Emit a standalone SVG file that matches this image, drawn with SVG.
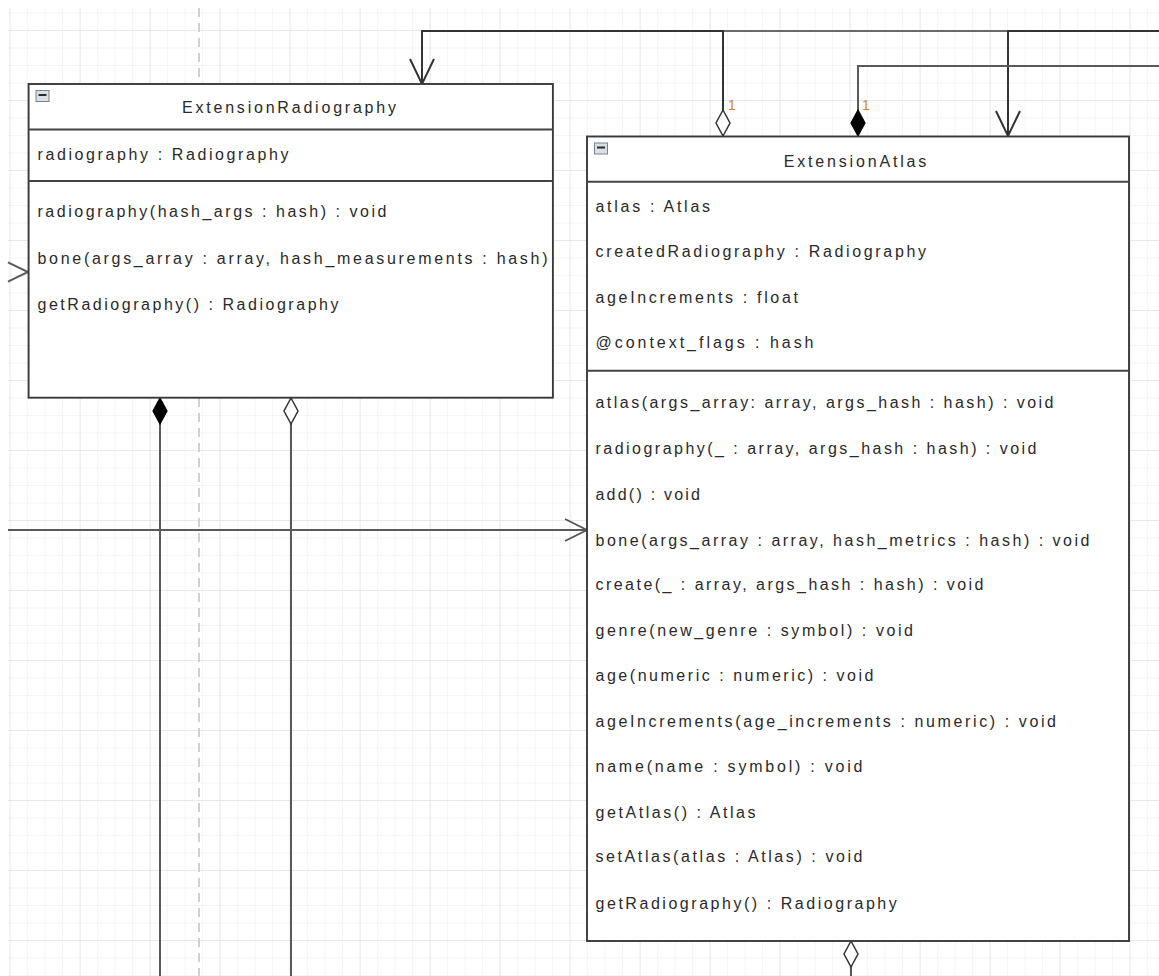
<svg xmlns="http://www.w3.org/2000/svg" width="1159" height="976" viewBox="0 0 1159 976">
<style>
.cls{fill:#ffffff;stroke:#3a3a3a;stroke-width:1.9}
.dv{stroke:#444444;stroke-width:1.9}
.t{font-family:"Liberation Sans",Arial,sans-serif;font-size:16px;fill:#2a2a2a}
.ttl{text-anchor:middle}
.mul{font-family:"Liberation Sans",Arial,sans-serif;font-size:14px;fill:#d4871c}
.con{fill:none;stroke:#333333;stroke-width:2}
.con2{fill:none;stroke:#5a5a5a;stroke-width:2}
.lite{fill:none;stroke:#6a6a6a;stroke-width:2}
.ico{fill:#d9dfe7;stroke:#7d838c;stroke-width:1}
.icm{stroke:#2a2a2a;stroke-width:2}
</style>
<defs>
<pattern id="gMinor" patternUnits="userSpaceOnUse" x="9.6" y="12.5" width="17.5" height="17.5">
<path d="M0,0 V17.5 M0,0 H17.5" fill="none" stroke="#ebebeb" stroke-width="1"/>
</pattern>
<pattern id="gMajor" patternUnits="userSpaceOnUse" x="9.6" y="30" width="70" height="70">
<path d="M0,0 V70 M0,0 H70" fill="none" stroke="#dcdcdc" stroke-width="1"/>
</pattern>
<marker id="arrowOpen" markerUnits="userSpaceOnUse" viewBox="-1 -1 27 26" markerWidth="27" markerHeight="26" refX="25" refY="12" orient="auto" overflow="visible">
<path d="M0,0 L25,12 L0,24" fill="none" stroke="#333333" stroke-width="2"/>
</marker>
<marker id="arrowOpenG" markerUnits="userSpaceOnUse" viewBox="-1 -1 24 24" markerWidth="24" markerHeight="24" refX="22" refY="11" orient="auto" overflow="visible">
<path d="M0,0 L22,11 L0,22" fill="none" stroke="#555555" stroke-width="1.8"/>
</marker>
<marker id="diaFilled" markerUnits="userSpaceOnUse" viewBox="-1 -1 28 16" markerWidth="28" markerHeight="16" refX="0" refY="7" orient="auto" overflow="visible">
<path d="M0,7 L13,0 L26,7 L13,14 Z" fill="#000" stroke="#000" stroke-width="1.2"/>
</marker>
<marker id="diaHollow" markerUnits="userSpaceOnUse" viewBox="-1 -1 28 16" markerWidth="28" markerHeight="16" refX="0" refY="7" orient="auto" overflow="visible">
<path d="M0,7 L13,0 L26,7 L13,14 Z" fill="#fff" stroke="#333333" stroke-width="1.5"/>
</marker>
</defs>
<rect x="0" y="0" width="1159" height="976" fill="#ffffff"/>
<g id="grid">
<rect x="8" y="8" width="1151" height="968" fill="url(#gMinor)"/>
<rect x="8" y="8" width="1151" height="968" fill="url(#gMajor)"/>
<line x1="199" y1="8" x2="199" y2="976" stroke="#d0d0d0" stroke-width="2" stroke-dasharray="9 6"/>
</g>
<g id="connectors">
<path class="lite" d="M1159,31 H422 V84"/>
<path class="con" d="M723,136 V31 H422 V84" marker-start="url(#diaHollow)" marker-end="url(#arrowOpen)"/>
<path class="con" d="M1159,31 H1008 V136" marker-end="url(#arrowOpen)"/>
<path class="con2" d="M858,136 V66 H1159" marker-start="url(#diaFilled)"/>
<path class="con2" d="M8,530 H587" marker-end="url(#arrowOpenG)"/>
<path class="con2" d="M8,262.4 L28,272 L8,281.6"/>
<path class="con2" d="M160,398 V976" marker-start="url(#diaFilled)"/>
<path class="con2" d="M291,398 V976" marker-start="url(#diaHollow)"/>
<path class="con2" d="M851,941 V976" marker-start="url(#diaHollow)"/>
<text class="mul" x="728" y="110">1</text>
<text class="mul" x="862" y="110">1</text>
<text class="mul" x="170" y="390">1</text>
<text class="mul" x="301" y="390">1</text>
<text class="mul" x="858.5" y="930">1</text>
</g>
<g id="ExtensionRadiography">
<rect class="cls" x="28.6" y="84" width="524.3" height="313.7"/>
<line class="dv" x1="28.6" y1="129.5" x2="552.9" y2="129.5"/>
<line class="dv" x1="28.6" y1="181" x2="552.9" y2="181"/>
<rect class="ico" x="36" y="90.5" width="13" height="11"/>
<line class="icm" x1="38.5" y1="95" x2="46.5" y2="95"/>
<text class="t ttl" x="289" y="113" textLength="214" lengthAdjust="spacing">ExtensionRadiography</text>
<text class="t" x="37.5" y="160" textLength="251" lengthAdjust="spacing">radiography : Radiography</text>
<text class="t" x="37.5" y="217" textLength="349" lengthAdjust="spacing">radiography(hash_args : hash) : void</text>
<text class="t" x="37.5" y="264" textLength="510" lengthAdjust="spacing">bone(args_array : array, hash_measurements : hash)</text>
<text class="t" x="37.5" y="310" textLength="301" lengthAdjust="spacing">getRadiography() : Radiography</text>
</g>
<g id="ExtensionAtlas">
<rect class="cls" x="587" y="136.5" width="542" height="804.5"/>
<line class="dv" x1="587" y1="181.7" x2="1129" y2="181.7"/>
<line class="dv" x1="587" y1="370.7" x2="1129" y2="370.7"/>
<rect class="ico" x="594.5" y="143" width="13" height="11"/>
<line class="icm" x1="597" y1="147.5" x2="605" y2="147.5"/>
<text class="t ttl" x="855" y="166.5" textLength="142.6" lengthAdjust="spacing">ExtensionAtlas</text>
<text class="t" x="595.5" y="211.7" textLength="114.5" lengthAdjust="spacing">atlas : Atlas</text>
<text class="t" x="595.5" y="257.3" textLength="330.5" lengthAdjust="spacing">createdRadiography : Radiography</text>
<text class="t" x="595.5" y="303.3" textLength="202.4" lengthAdjust="spacing">ageIncrements : float</text>
<text class="t" x="595.5" y="347.7" textLength="218" lengthAdjust="spacing">@context_flags : hash</text>
<text class="t" x="595.5" y="408.3" textLength="458" lengthAdjust="spacing">atlas(args_array: array, args_hash : hash) : void</text>
<text class="t" x="595.5" y="454" textLength="441" lengthAdjust="spacing">radiography(_ : array, args_hash : hash) : void</text>
<text class="t" x="595.5" y="500" textLength="104.5" lengthAdjust="spacing">add() : void</text>
<text class="t" x="595.5" y="546" textLength="494" lengthAdjust="spacing">bone(args_array : array, hash_metrics : hash) : void</text>
<text class="t" x="595.5" y="590" textLength="388" lengthAdjust="spacing">create(_ : array, args_hash : hash) : void</text>
<text class="t" x="595.5" y="635.7" textLength="317.5" lengthAdjust="spacing">genre(new_genre : symbol) : void</text>
<text class="t" x="595.5" y="681" textLength="278" lengthAdjust="spacing">age(numeric : numeric) : void</text>
<text class="t" x="595.5" y="726.7" textLength="460.5" lengthAdjust="spacing">ageIncrements(age_increments : numeric) : void</text>
<text class="t" x="595.5" y="772.3" textLength="267" lengthAdjust="spacing">name(name : symbol) : void</text>
<text class="t" x="595.5" y="818.3" textLength="160" lengthAdjust="spacing">getAtlas() : Atlas</text>
<text class="t" x="595.5" y="862.3" textLength="267" lengthAdjust="spacing">setAtlas(atlas : Atlas) : void</text>
<text class="t" x="595.5" y="909" textLength="301.3" lengthAdjust="spacing">getRadiography() : Radiography</text>
</g>
</svg>
